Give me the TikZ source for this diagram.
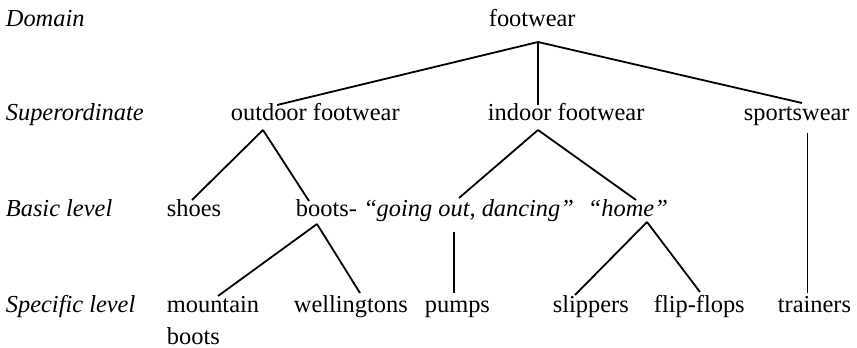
\documentclass[tikz,border=0pt]{standalone}
\usepackage{fontspec}
\setmainfont{Liberation Serif}
\begin{document}
\begin{tikzpicture}[x=0.5pt,y=-0.5pt,line width=0.9pt,
  every node/.style={inner sep=0pt,anchor=base west,font=\fontsize{12.2}{16}\selectfont},
  level/.style={font=\fontsize{12.2}{16}\selectfont\itshape}]
\useasboundingbox (0,0) rectangle (857,348);
% level labels
\node[level] (domain) at (5,26) {Domain};
\node[level] (super) at (5,120) {Superordinate};
\node[level] (basic) at (5,216) {Basic level};
\node[level] (specific) at (5,312) {Specific level};
% categories
\node (footwear) at (488,26) {footwear};
\node (outdoor) at (230,120) {outdoor footwear};
\node (indoor) at (487,120) {indoor footwear};
\node (sports) at (743,120) {sportswear};
\node (shoes) at (166,216) {shoes};
\node (boots) at (295,216) {boots-};
\node (goingout) at (365,216) {“\textit{going out, dancing”}};
\node (home) at (587,216) {\textit{“home”}};
\node[align=left,anchor=north west] (mountain) at (166,295) {mountain\\boots};
\node (wellies) at (293,312) {wellingtons};
\node (pumps) at (424,312) {pumps};
\node (slippers) at (552,312) {slippers};
\node (flipflops) at (653,312) {flip-flops};
\node (trainers) at (777,312) {trainers};
% branches
\draw ([shift={(50,16)}]footwear.base west) -- ([shift={(47,-15)}]outdoor.base west);
\draw ([shift={(50,16)}]footwear.base west) -- ([shift={(51,-15)}]indoor.base west);
\draw ([shift={(50,16)}]footwear.base west) -- ([shift={(59,-17)}]sports.base west);
\draw ([shift={(33,10)}]outdoor.base west) -- ([shift={(26,-16)}]shoes.base west);
\draw ([shift={(33,10)}]outdoor.base west) -- ([shift={(14,-15)}]boots.base west);
\draw ([shift={(51,10)}]indoor.base west) -- ([shift={(94,-18)}]goingout.base west);
\draw ([shift={(51,10)}]indoor.base west) -- ([shift={(49,-16)}]home.base west);
\draw ([shift={(64.5,13)}]sports.base west) -- ([shift={(30.5,-19)}]trainers.base west);
\draw ([shift={(22,8)}]boots.base west) -- ([shift={(52,1)}]mountain.north west);
\draw ([shift={(22,8)}]boots.base west) -- ([shift={(67,-19)}]wellies.base west);
\draw ([shift={(89,16)}]goingout.base west) -- ([shift={(30,-19)}]pumps.base west);
\draw ([shift={(60,6)}]home.base west) -- ([shift={(23,-17)}]slippers.base west);
\draw ([shift={(60,6)}]home.base west) -- ([shift={(47,-20)}]flipflops.base west);
\end{tikzpicture}
\end{document}
